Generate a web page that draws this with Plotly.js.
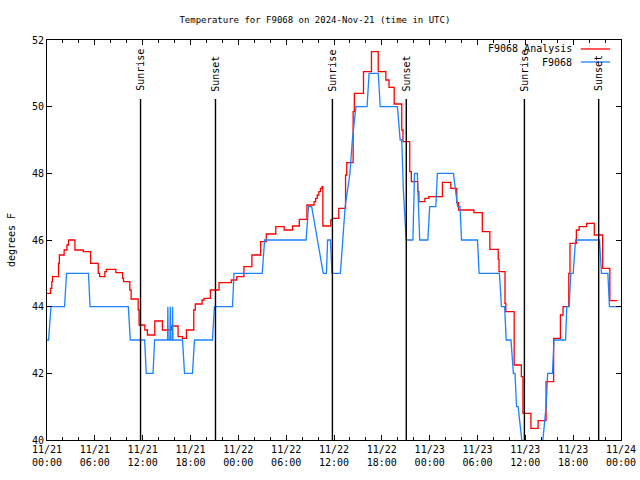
<!DOCTYPE html>
<html>
<head>
<meta charset="utf-8">
<script src="https://cdn.plot.ly/plotly-3.0.1.min.js"></script>
<style>html,body{margin:0;padding:0;background:#fff;}#chart{width:640px;height:480px;}</style>
</head>
<body>
<div id="chart"></div>
<script>
// Hours since 2024-11-21 00:00 UTC
const analysisHours = [0, 0.45, 0.6, 0.7, 1.45, 1.55, 2.15, 2.5, 2.7, 3.5, 4.55, 5.47, 6.43, 6.6, 7.26, 7.45, 8.64, 9.47, 9.6, 10.39, 10.55, 11.44, 11.55, 12.27, 12.6, 13.52, 14.48, 15.61, 16.44, 16.99, 17.49, 18.41, 18.6, 19.45, 19.7, 20.49, 21.58, 23.12, 23.8, 24.7, 25.7, 26.8, 27.5, 28.7, 29.75, 30.8, 31.65, 32.6, 33.5, 33.7, 33.9, 34.1, 34.3, 34.5, 34.6, 35.6, 35.8, 36.6, 37.45, 37.6, 38.4, 38.55, 39.7, 40.7, 41.55, 42.5, 42.9, 43.55, 44.5, 44.65, 45.5, 45.7, 46.5, 46.65, 47.4, 47.9, 49.6, 50.65, 51.4, 51.62, 53.55, 54.6, 55.55, 56.6, 56.7, 57.45, 57.55, 58.6, 59.5, 59.7, 60.7, 61.6, 62.6, 63.55, 64.4, 64.73, 65.45, 65.6, 66.4, 66.75, 67.7, 68.65, 69.7, 70.6, 71.54];
const analysisTemps = [44.4, 44.55, 44.75, 44.9, 45.3, 45.55, 45.7, 45.85, 46.0, 45.7, 45.65, 45.3, 45.0, 44.9, 45.05, 45.12, 45.02, 44.85, 44.75, 44.5, 44.23, 43.9, 43.45, 43.3, 43.15, 43.57, 43.3, 43.42, 43.1, 43.05, 43.3, 43.9, 44.08, 44.2, 44.25, 44.5, 44.72, 44.8, 44.9, 45.2, 45.55, 45.95, 46.18, 46.4, 46.3, 46.42, 46.62, 47.05, 47.15, 47.25, 47.35, 47.45, 47.55, 47.6, 46.42, 46.6, 46.65, 46.95, 47.95, 48.32, 49.85, 50.4, 51.05, 51.65, 51.05, 50.8, 50.58, 50.08, 49.3, 48.95, 48.05, 47.75, 47.45, 47.15, 47.25, 47.3, 47.73, 47.55, 47.12, 46.9, 46.82, 46.25, 45.72, 45.42, 45.05, 44.1, 43.85, 42.25, 41.9, 40.8, 40.35, 40.58, 41.75, 43.05, 43.75, 44.0, 45.0, 45.9, 46.3, 46.4, 46.5, 46.15, 45.15, 44.18, 44.18];

const stationHours = [0, 0.2, 0.5, 2.2, 2.45, 5.2, 5.4, 10.2, 10.45, 12.25, 12.45, 13.3, 13.5, 15.12, 15.16, 15.2, 15.42, 15.46, 15.5, 15.71, 15.75, 15.8, 17.0, 17.25, 18.25, 18.5, 20.75, 21.0, 23.27, 23.45, 27.0, 27.3, 32.5, 32.8, 33.2, 34.65, 35.05, 35.2, 35.55, 35.75, 36.8, 37.4, 38.0, 38.3, 38.75, 40.15, 40.4, 41.55, 41.8, 43.96, 44.3, 44.5, 44.7, 45.05, 45.9, 46.1, 46.45, 46.75, 47.77, 48.0, 48.77, 48.97, 50.98, 51.5, 51.8, 52.0, 54.0, 54.2, 56.75, 57.0, 57.4, 57.6, 58.2, 58.5, 58.7, 58.9, 59.1, 60.0, 61.8, 62.6, 62.8, 63.4, 63.6, 65.05, 65.2, 65.5, 65.7, 66.0, 66.3, 69.3, 69.55, 70.35, 70.55, 71.96];
const stationTemps = [43, 43, 44, 44, 45, 45, 44, 44, 43, 43, 42, 42, 43, 43, 44, 43, 43, 44, 43, 43, 44, 43, 43, 42, 42, 43, 43, 44, 44, 45, 45, 46, 46, 47, 47, 45, 45, 46, 46, 45, 45, 47, 48, 49, 50, 50, 51, 51, 50, 50, 49, 49, 47.5, 46, 46, 48, 48, 46, 46, 47, 47, 48, 48, 47, 47, 46, 46, 45, 45, 44, 44, 43, 43, 42, 42, 41, 41, 39, 39, 41, 42, 42, 43, 43, 44, 44, 45, 45, 46, 46, 45, 45, 44, 44];

const eventTimes = ['2024-11-21 11:44', '2024-11-21 21:08', '2024-11-22 11:48', '2024-11-22 21:04', '2024-11-23 11:53', '2024-11-23 21:12'];
const eventLabels = ['Sunrise', 'Sunset', 'Sunrise', 'Sunset', 'Sunrise', 'Sunset'];

const seriesNames = ['F9068 Analysis', 'F9068'];
const seriesColors = ['#ff0000', '#1a82ff'];
const chartTitle = 'Temperature for F9068 on 2024-Nov-21 (time in UTC)';
const yTitle = 'degrees F';

const BASE = Date.UTC(2024, 10, 21, 0, 0, 0);
function toDate(h) {
  return new Date(BASE + h * 3600000).toISOString().slice(0, 19).replace('T', ' ');
}

const FONT = 'DejaVu Sans Mono, monospace';

const traces = [
  {
    x: analysisHours.map(toDate), y: analysisTemps, name: seriesNames[0],
    type: 'scatter', mode: 'lines', line: {color: seriesColors[0], width: 1.3, shape: 'hv'}
  },
  {
    x: stationHours.map(toDate), y: stationTemps, name: seriesNames[1],
    type: 'scatter', mode: 'lines', line: {color: seriesColors[1], width: 1.3, shape: 'linear'}
  }
];

const shapes = eventTimes.map(t => ({
  type: 'line', xref: 'x', yref: 'y', x0: t, x1: t, y0: 40, y1: 50.23,
  line: {color: '#000', width: 1.4}, layer: 'above'
}));
const annotations = eventTimes.map((t, i) => ({
  x: t, y: 50.4, xref: 'x', yref: 'y', text: eventLabels[i], showarrow: false,
  textangle: -90, xanchor: 'center', yanchor: 'bottom',
  font: {family: FONT, size: 10, color: '#000'}
}));

// Key in gnuplot style: label on the left, line sample on the right
const keyRows = [0.9775, 0.945];
seriesNames.forEach((name, i) => {
  annotations.push({
    x: 0.918, y: keyRows[i], xref: 'paper', yref: 'paper', text: name, showarrow: false,
    xanchor: 'right', yanchor: 'middle', font: {family: FONT, size: 10, color: '#000'}
  });
  shapes.push({
    type: 'line', xref: 'paper', yref: 'paper', x0: 0.930, x1: 0.981, y0: keyRows[i], y1: keyRows[i],
    line: {color: seriesColors[i], width: 1.3}
  });
});

const layout = {
  width: 640, height: 480,
  margin: {l: 47, r: 19, t: 40, b: 40, autoexpand: false},
  paper_bgcolor: '#fff', plot_bgcolor: '#fff',
  font: {family: FONT, size: 10, color: '#000'},
  title: {text: chartTitle, x: 0.492, xanchor: 'center', y: 0.958, yanchor: 'middle',
          font: {family: FONT, size: 9, color: '#000'}},
  xaxis: {
    type: 'date', range: ['2024-11-21 00:00', '2024-11-24 00:00'],
    tick0: '2024-11-21 00:00', dtick: 6 * 3600000, tickformat: '%m/%d<br>%H:%M',
    ticks: 'inside', ticklen: 5, tickcolor: '#000', tickwidth: 1,
    minor: {dtick: 2 * 3600000, ticks: 'inside', ticklen: 3, tickcolor: '#000', showgrid: false},
    showline: true, linecolor: '#000', linewidth: 1, mirror: 'ticks',
    showgrid: false, zeroline: false, automargin: false,
    tickfont: {family: FONT, size: 10, color: '#000'}
  },
  yaxis: {
    range: [40, 52], dtick: 2, tick0: 40,
    ticks: 'inside', ticklen: 5, tickcolor: '#000',
    showline: true, linecolor: '#000', linewidth: 1, mirror: 'ticks',
    showgrid: false, zeroline: false, automargin: false,
    tickfont: {family: FONT, size: 10, color: '#000'},
    title: {text: yTitle, standoff: 14, font: {family: FONT, size: 10, color: '#000'}}
  },
  showlegend: false,
  shapes: shapes,
  annotations: annotations
};

Plotly.newPlot('chart', traces, layout, {displayModeBar: false, staticPlot: true});
</script>
</body>
</html>
